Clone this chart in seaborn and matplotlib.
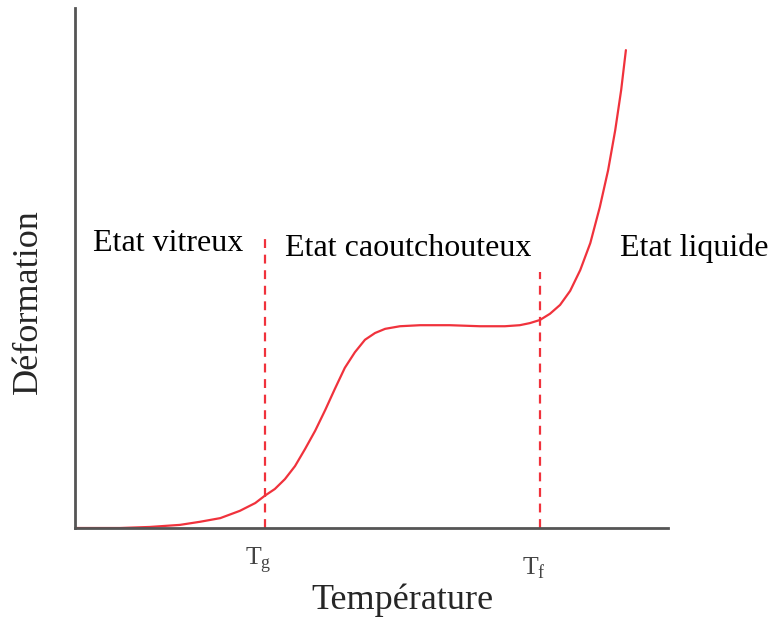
import numpy as np
import pandas as pd
import matplotlib.pyplot as plt
import seaborn as sns

# Curve (arbitrary units, 0-100 on both axes)
temperature = [0, 7.6, 12.6, 17.7, 21.1, 24.5, 27.8, 30.4, 32.0, 33.7, 35.4, 37.1, 38.8,
               40.5, 42.2, 43.8, 45.5, 47.2, 48.9, 50.6, 52.3, 54.8, 58.2, 63.2, 68.3,
               72.5, 75.0, 76.7, 78.4, 80.1, 81.8, 83.5, 85.2, 86.9, 88.5, 89.9, 91.1,
               92.1, 92.9]
deformation = [0, 0, 0.2, 0.6, 1.2, 1.9, 3.3, 4.8, 6.2, 7.5, 9.4, 11.9, 15.2,
               18.7, 22.7, 26.7, 30.8, 33.8, 36.2, 37.5, 38.3, 38.8, 39.0, 39.0, 38.8,
               38.8, 39.0, 39.4, 40.0, 41.2, 42.9, 45.6, 49.6, 54.8, 61.7, 68.8, 76.5,
               84.2, 91.9]

# Transition temperatures and the height of their dashed markers
transitions = ["g", "f"]
transition_x = [32.0, 78.4]
transition_top = [56.0, 49.2]

# Region labels
state_labels = ["Etat vitreux", "Etat caoutchouteux", "Etat liquide"]
state_x = [3.0, 35.4, 91.9]
state_y = [54.8, 53.8, 53.8]

sns.set_style("white")
plt.rcParams['font.family'] = ['Liberation Serif', 'DejaVu Serif']
plt.rcParams['mathtext.fontset'] = 'custom'
plt.rcParams['mathtext.rm'] = 'Liberation Serif'

df = pd.DataFrame({"Température": temperature, "Déformation": deformation})

fig = plt.figure(figsize=(7.7, 6.17), dpi=100)
ax = fig.add_axes([75 / 770, 89 / 617, 593 / 770, 520 / 617])

red = "#f0323c"
sns.lineplot(data=df, x="Température", y="Déformation", color=red, linewidth=1.6,
             sort=False, ax=ax)

for xv, top in zip(transition_x, transition_top):
    ax.plot([xv, xv], [0, top], color=red, linestyle=(0, (4, 3)), linewidth=1.6)

for lab, xv, yv in zip(state_labels, state_x, state_y):
    ax.text(xv, yv, lab, fontsize=23, ha="left", va="center", color="black", clip_on=False)

ax.text(30.9, -6.2, r"T$_\mathrm{g}$", fontsize=18.5, ha="center", va="center", color="#444444", clip_on=False)
ax.text(77.4, -7.8, r"T$_\mathrm{f}$", fontsize=18.5, ha="center", va="center", color="#444444", clip_on=False)

ax.set_xlim(0, 100)
ax.set_ylim(0, 100)
ax.set_xticks([])
ax.set_yticks([])
ax.set_xlabel("Température", fontsize=26)
ax.set_ylabel("Déformation", fontsize=26)
ax.xaxis.set_label_coords(0.553, -0.106)
ax.yaxis.set_label_coords(-0.051, 0.435)

for s in ["top", "right"]:
    ax.spines[s].set_visible(False)
for s in ["left", "bottom"]:
    ax.spines[s].set_color("#555555")
    ax.spines[s].set_linewidth(2)

plt.savefig("out.png", dpi=100)
